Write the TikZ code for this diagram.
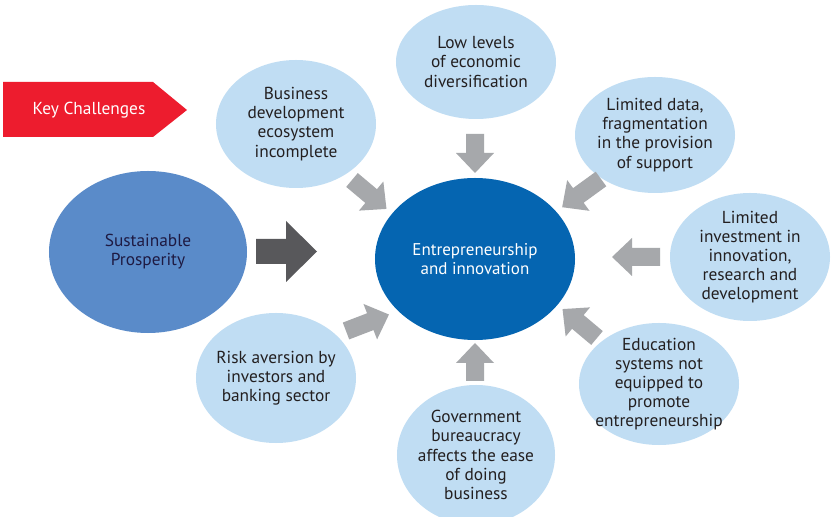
\documentclass[tikz,border=0pt]{standalone}
\usepackage{fontspec}
\setmainfont{PT Sans}
\usetikzlibrary{shapes.geometric}
\usepackage{xcolor}
\definecolor{challengered}{HTML}{ED1C2E}
\definecolor{paleblue}{HTML}{C0DDF3}
\definecolor{coreblue}{HTML}{0565B1}
\definecolor{midblue}{HTML}{5A8BC9}
\definecolor{arrowgrey}{HTML}{A6A8AB}
\definecolor{darkgrey}{HTML}{58585B}
\definecolor{ink}{HTML}{231F20}

\tikzset{
  bodyfont/.style={font=\fontsize{14.8}{16.3}\selectfont},
  challenge/.style={ellipse, fill=paleblue, text=ink, align=center, inner sep=-0.6cm,
    minimum width=4.8cm, bodyfont},
  greyarrow/.pic={\fill[arrowgrey] (0,-9) -- (#1-20,-9) -- (#1-20,-19) -- (#1,0)
    -- (#1-20,19) -- (#1-20,9) -- (0,9) -- cycle;}
}

\begin{document}
\begin{tikzpicture}[x=0.03cm, y=-0.03cm]
  \useasboundingbox (0,0) rectangle (831,517);
  \clip (0,0) rectangle (831,517);
  \fill[white] (0,0) rectangle (831,517);
  % Key Challenges tag
  \fill[challengered] (3,82) -- (153,82) -- (187,110) -- (153,137) -- (3,137) -- cycle;
  \node[text=white, bodyfont] (keytag) at (89,110) {Key Challenges};
  % Centre and source
  \node[ellipse, fill=coreblue, text=white, align=center, inner sep=0pt,
        minimum width=6cm, minimum height=4.86cm, font=\fontsize{14.5}{15.8}\selectfont]
        (core) at (475,259) {Entrepreneurship\\and innovation};
  \node[ellipse, fill=midblue, text=ink!85!blue, align=center, inner sep=0pt,
        minimum width=5.94cm, minimum height=4.86cm, bodyfont]
        (prosperity) at (148,252) {Sustainable\\Prosperity};
  % Challenges around the centre
  \node[challenge, minimum height=3.84cm] (business)   at (296,124) {Business\\development\\ecosystem\\incomplete};
  \node[challenge, minimum height=3.42cm] (diversity)  at (476,62)  {Low levels\\of economic\\diversification};
  \node[challenge, minimum height=3.48cm] (data)       at (655,135) {Limited data,\\fragmentation\\in the provision\\of support};
  \node[challenge, minimum height=3.84cm] (investment) at (750,257) {Limited\\investment in\\innovation,\\research and\\development};
  \node[challenge, minimum height=3.66cm] (education)  at (659,384) {Education\\systems not\\equipped to\\promote\\entrepreneurship};
  \node[challenge, minimum height=4.2cm, minimum width=4.74cm] (bureaucracy) at (476,455) {Government\\bureaucracy\\affects the ease\\of doing\\business};
  \node[challenge, minimum height=3.9cm] (risk)       at (276,378) {Risk aversion by\\investors and\\banking sector};
  % Big arrow into the centre
  \fill[darkgrey] (256,239) -- (286,239) -- (286,221) -- (317,251.5) -- (286,282)
    -- (286,264) -- (256,264) -- cycle;
  % Grey arrows towards the centre
  \pic[rotate=-90]  at (475,134) {greyarrow=39};
  \pic[rotate=-40]  at (352,180) {greyarrow=45};
  \pic[rotate=-144] at (601,179) {greyarrow=48};
  \pic[rotate=180]  at (660,257) {greyarrow=48};
  \pic[rotate=140]  at (597,338) {greyarrow=45};
  \pic[rotate=90]   at (475,381) {greyarrow=38};
  \pic[rotate=21]   at (346,331) {greyarrow=46};
\end{tikzpicture}
\end{document}
